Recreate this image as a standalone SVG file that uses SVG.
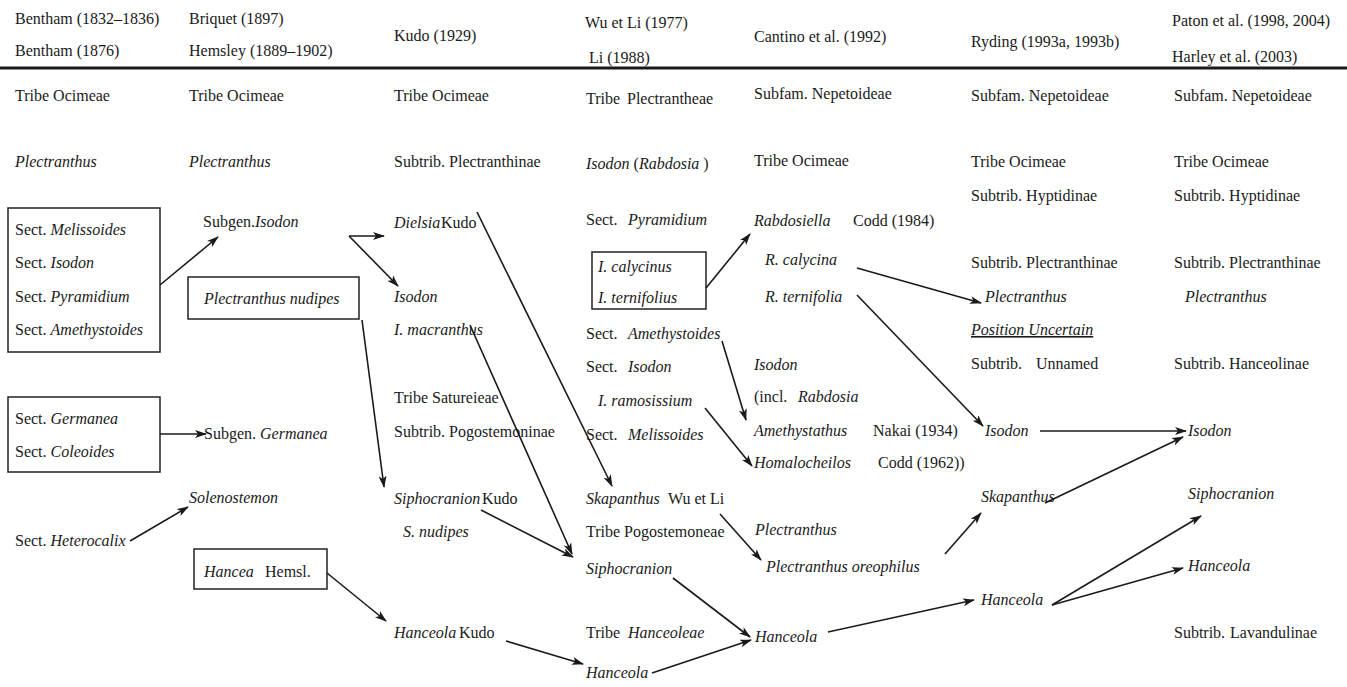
<svg xmlns="http://www.w3.org/2000/svg" width="1347" height="687" viewBox="0 0 1347 687">
<style>
text{font-family:"Liberation Serif",Times,"Times New Roman",serif;font-size:16px;fill:#1a1a1a}
.i{font-style:italic}
.box{fill:none;stroke:#222;stroke-width:1.5}
.c line{stroke:#1a1a1a;stroke-width:1.6;fill:none;marker-end:url(#ah)}
</style>
<defs>
<marker id="ah" viewBox="0 0 12 8" refX="11" refY="4" markerWidth="12" markerHeight="8" markerUnits="userSpaceOnUse" orient="auto">
<path d="M0,0 L12,4 L0,8 L3,4 z" fill="#1a1a1a"/>
</marker>
</defs>
<rect width="1347" height="687" fill="#fff"/>
<g id="header">
<text x="15" y="24">Bentham (1832–1836)</text>
<text x="15" y="56">Bentham (1876)</text>
<text x="189" y="24">Briquet (1897)</text>
<text x="189" y="56">Hemsley (1889–1902)</text>
<text x="394" y="41">Kudo (1929)</text>
<text x="585" y="28">Wu et Li (1977)</text>
<text x="589" y="63">Li (1988)</text>
<text x="754" y="42">Cantino et al. (1992)</text>
<text x="971" y="47">Ryding (1993a, 1993b)</text>
<text x="1172" y="26">Paton et al. (1998, 2004)</text>
<text x="1172" y="62">Harley et al. (2003)</text>
<line x1="0" y1="68" x2="1347" y2="68" stroke="#1a1a1a" stroke-width="3"/>
</g>
<g id="col1">
<text x="15" y="101">Tribe Ocimeae</text>
<text x="15" y="167" class="i">Plectranthus</text>
<g id="box-sects">
<rect class="box" x="8" y="208" width="152" height="144"/>
<text x="15" y="235">Sect. <tspan class="i">Melissoides</tspan></text>
<text x="15" y="268">Sect. <tspan class="i">Isodon</tspan></text>
<text x="15" y="302">Sect. <tspan class="i">Pyramidium</tspan></text>
<text x="15" y="335">Sect. <tspan class="i">Amethystoides</tspan></text>
</g>
<g id="box-germanea">
<rect class="box" x="8" y="397" width="152" height="75"/>
<text x="15" y="424">Sect. <tspan class="i">Germanea</tspan></text>
<text x="15" y="457">Sect. <tspan class="i">Coleoides</tspan></text>
</g>
<text id="heterocalix" x="15" y="546">Sect. <tspan class="i">Heterocalix</tspan></text>
</g>
<g id="col2">
<text x="189" y="101">Tribe Ocimeae</text>
<text x="189" y="167" class="i">Plectranthus</text>
<text id="subgen-isodon" x="203" y="227">Subgen.<tspan class="i">Isodon</tspan></text>
<g id="box-nudipes">
<rect class="box" x="188" y="277" width="171" height="42"/>
<text x="204" y="304" class="i">Plectranthus nudipes</text>
</g>
<text id="subgen-germanea" x="204" y="439">Subgen. <tspan class="i">Germanea</tspan></text>
<text id="solenostemon" x="189" y="503" class="i">Solenostemon</text>
<g id="box-hancea">
<rect class="box" x="194" y="549" width="133" height="40"/>
<text x="204" y="577" class="i">Hancea</text>
<text x="265" y="577">Hemsl.</text>
</g>
</g>
<g id="col3">
<text x="394" y="101">Tribe Ocimeae</text>
<text x="394" y="167">Subtrib. Plectranthinae</text>
<g id="dielsia"><text x="394" y="228" class="i">Dielsia</text><text x="441" y="228">Kudo</text></g>
<text id="isodon3" x="394" y="302" class="i">Isodon</text>
<text id="macranthus" x="394" y="335" class="i">I. macranthus</text>
<text x="394" y="403">Tribe Satureieae</text>
<text x="394" y="437">Subtrib. Pogostemoninae</text>
<g id="siphocranion3"><text x="394" y="504" class="i">Siphocranion</text><text x="482" y="504">Kudo</text></g>
<text x="403" y="537" class="i">S. nudipes</text>
<g id="hanceola3"><text x="394" y="638" class="i">Hanceola</text><text x="459" y="638">Kudo</text></g>
</g>
<g id="col4">
<text x="586" y="104">Tribe</text><text x="627" y="104">Plectrantheae</text>
<text x="586" y="169"><tspan class="i">Isodon</tspan> (<tspan class="i">Rabdosia</tspan> )</text>
<text x="586" y="225">Sect.</text><text x="628" y="225" class="i">Pyramidium</text>
<g id="box-calycinus">
<rect class="box" x="592" y="252" width="114" height="57"/>
<text x="598" y="272" class="i">I. calycinus</text>
<text x="598" y="303" class="i">I. ternifolius</text>
</g>
<text x="586" y="339">Sect.</text><text x="628" y="339" class="i">Amethystoides</text>
<text x="586" y="372">Sect.</text><text x="628" y="372" class="i">Isodon</text>
<text x="598" y="406" class="i">I. ramosissium</text>
<text x="586" y="440">Sect.</text><text x="628" y="440" class="i">Melissoides</text>
<g id="skapanthus4"><text x="586" y="504" class="i">Skapanthus</text><text x="668" y="504">Wu et Li</text></g>
<text x="586" y="537">Tribe Pogostemoneae</text>
<text id="siphocranion4" x="586" y="574" class="i">Siphocranion</text>
<text x="586" y="638">Tribe</text><text x="628" y="638" class="i">Hanceoleae</text>
<text id="hanceola4" x="586" y="678" class="i">Hanceola</text>
</g>
<g id="col5">
<text x="754" y="99">Subfam. Nepetoideae</text>
<text x="754" y="166">Tribe Ocimeae</text>
<g id="rabdosiella"><text x="754" y="226" class="i">Rabdosiella</text><text x="853" y="226">Codd (1984)</text></g>
<text x="765" y="265" class="i">R. calycina</text>
<text x="765" y="302" class="i">R. ternifolia</text>
<text x="754" y="370" class="i">Isodon</text>
<text x="754" y="402">(incl.</text><text x="798" y="402" class="i">Rabdosia</text>
<g id="amethystathus"><text x="754" y="436" class="i">Amethystathus</text><text x="873" y="436">Nakai (1934)</text></g>
<g id="homalocheilos"><text x="754" y="468" class="i">Homalocheilos</text><text x="878" y="468">Codd (1962))</text></g>
<text x="755" y="535" class="i">Plectranthus</text>
<text id="oreophilus" x="766" y="572" class="i">Plectranthus oreophilus</text>
<text id="hanceola5" x="755" y="642" class="i">Hanceola</text>
</g>
<g id="col6">
<text x="971" y="101">Subfam. Nepetoideae</text>
<text x="971" y="167">Tribe Ocimeae</text>
<text x="971" y="201">Subtrib. Hyptidinae</text>
<text x="971" y="268">Subtrib. Plectranthinae</text>
<text x="985" y="302" class="i">Plectranthus</text>
<text x="971" y="335" class="i" text-decoration="underline">Position Uncertain</text>
<text x="971" y="369">Subtrib.</text><text x="1036" y="369">Unnamed</text>
<text id="isodon6" x="985" y="436" class="i">Isodon</text>
<text id="skapanthus6" x="981" y="502" class="i">Skapanthus</text>
<text id="hanceola6" x="981" y="605" class="i">Hanceola</text>
</g>
<g id="col7">
<text x="1174" y="101">Subfam. Nepetoideae</text>
<text x="1174" y="167">Tribe Ocimeae</text>
<text x="1174" y="201">Subtrib. Hyptidinae</text>
<text x="1174" y="268">Subtrib. Plectranthinae</text>
<text x="1185" y="302" class="i">Plectranthus</text>
<text x="1174" y="369">Subtrib. Hanceolinae</text>
<text id="isodon7" x="1188" y="436" class="i">Isodon</text>
<text id="siphocranion7" x="1188" y="499" class="i">Siphocranion</text>
<text id="hanceola7" x="1188" y="571" class="i">Hanceola</text>
<text x="1174" y="638">Subtrib.</text><text x="1230" y="638">Lavandulinae</text>
</g>
<g id="connectors" class="c">
<line x1="160" y1="285" x2="218" y2="237"/>
<line x1="160" y1="434" x2="206" y2="434"/>
<line x1="130" y1="541" x2="188" y2="507"/>
<line x1="327" y1="573" x2="386" y2="621"/>
<line x1="349" y1="236" x2="384" y2="236"/>
<line x1="349" y1="236" x2="398" y2="286"/>
<line x1="362" y1="320" x2="384" y2="487"/>
<line x1="477" y1="212" x2="612" y2="486"/>
<line x1="470" y1="325" x2="572" y2="554"/>
<line x1="481" y1="510" x2="573" y2="557"/>
<line x1="506" y1="641" x2="583" y2="664"/>
<line x1="652" y1="673" x2="751" y2="640"/>
<line x1="673" y1="578" x2="750" y2="637"/>
<line x1="706" y1="288" x2="750" y2="234"/>
<line x1="722" y1="341" x2="746" y2="420"/>
<line x1="705" y1="408" x2="752" y2="466"/>
<line x1="720" y1="514" x2="761" y2="560"/>
<line x1="857" y1="268" x2="981" y2="303"/>
<line x1="857" y1="295" x2="983" y2="426"/>
<line x1="828" y1="632" x2="974" y2="600"/>
<line x1="945" y1="554" x2="981" y2="513"/>
<line x1="1040" y1="431" x2="1186" y2="431"/>
<line x1="1045" y1="503" x2="1183" y2="437"/>
<line x1="1052" y1="605" x2="1201" y2="516"/>
<line x1="1052" y1="605" x2="1183" y2="568"/>
</g>
</svg>
